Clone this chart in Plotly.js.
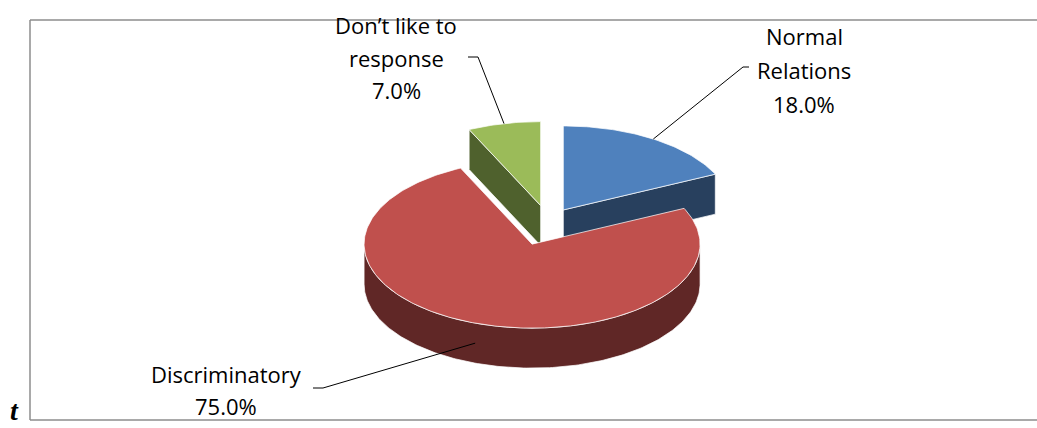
<!DOCTYPE html>
<html>
<head>
<meta charset="utf-8">
<script src="https://cdn.plot.ly/plotly-3.0.1.min.js"></script>
<style>
html,body{margin:0;padding:0;background:#fff;}
#chart{width:1037px;height:428px;}
</style>
</head>
<body>
<div id="chart"></div>
<script>
// ---- data ----
const categories = ["Normal\nRelations", "Discriminatory", "Don\u2019t like to\nresponse"];
const values = [18.0, 75.0, 7.0];

// ---- style (positions / sizes / colours) ----
const style = {
  center: [548, 222], rx: 168, ry: 84, depth: 40,
  pull: [0.17, 0.28, 0.2],
  topColor: ['#4F81BD', '#C0504D', '#9BBB59'],
  sideColor: ['#28405E', '#602726', '#4F612D'],
  labelFirstLine: [[804, 36], [226, 374], [396, 25]],
  lineGap: [34, 32, 32.5],
  leaderStart: [[[749, 67], [743, 67]], [[313, 388], [323, 388]], [[468, 57], [478, 57]]],
  leaderDepth: [0, 0.5, 0],
  font: 'Open Sans, Liberation Sans, sans-serif', fontSize: 22
};

const total = values.reduce((a, b) => a + b, 0);
const rad = d => d * Math.PI / 180;

function pt(c, th, dy) {
  return [c[0] + style.rx * Math.sin(rad(th)), c[1] - style.ry * Math.cos(rad(th)) + (dy || 0)];
}
function arc(c, a, b, dy) {
  const pts = [];
  const n = Math.max(2, Math.ceil(Math.abs(b - a) / 1));
  for (let i = 0; i <= n; i++) pts.push(pt(c, a + (b - a) * i / n, dy));
  return pts;
}

// slice geometry from data
let acc = 0;
const slices = values.map((v, i) => {
  const a = acc / total * 360;
  acc += v;
  const b = acc / total * 360;
  const mid = (a + b) / 2;
  const p = style.pull[i];
  const c = [style.center[0] + p * style.rx * Math.sin(rad(mid)),
             style.center[1] - p * style.ry * Math.cos(rad(mid))];
  return {i, a, b, mid, c};
});

function poly(pts, color) {
  return {
    type: 'scatter', mode: 'lines', fill: 'toself', fillcolor: color,
    x: pts.map(p => p[0]), y: pts.map(p => p[1]),
    line: {color: 'rgba(255,255,255,0.9)', width: 0.8},
    hoverinfo: 'skip', showlegend: false
  };
}

const traces = [];
const order = slices.slice().sort((s, t) => Math.cos(rad(t.mid)) - Math.cos(rad(s.mid)));
const H = style.depth;
order.forEach(s => {
  const side = style.sideColor[s.i], top = style.topColor[s.i];
  // start cut face
  if (Math.sin(rad(s.a)) < -1e-6) {
    const r = pt(s.c, s.a);
    traces.push(poly([s.c, r, [r[0], r[1] + H], [s.c[0], s.c[1] + H], s.c], side));
  }
  // end cut face
  if (Math.sin(rad(s.b)) > 1e-6) {
    const r = pt(s.c, s.b);
    traces.push(poly([s.c, r, [r[0], r[1] + H], [s.c[0], s.c[1] + H], s.c], side));
  }
  // outer side (front half)
  const lo = Math.max(s.a, 90), hi = Math.min(s.b, 270);
  if (hi > lo) {
    const upper = arc(s.c, lo, hi, 0);
    const lower = arc(s.c, hi, lo, H);
    traces.push(poly(upper.concat(lower, [upper[0]]), side));
  }
  // top face
  traces.push(poly([s.c].concat(arc(s.c, s.a, s.b, 0), [s.c]), top));
});

// leader lines
slices.forEach(s => {
  const end = pt(s.c, s.mid, H * style.leaderDepth[s.i]);
  const pts = style.leaderStart[s.i].concat([end]);
  traces.push({
    type: 'scatter', mode: 'lines', x: pts.map(p => p[0]), y: pts.map(p => p[1]),
    line: {color: '#000', width: 1}, hoverinfo: 'skip', showlegend: false
  });
});

// labels
const annotations = [];
slices.forEach(s => {
  const lines = categories[s.i].split('\n').concat([(values[s.i] / total * 100).toFixed(1) + '%']);
  const [lx, ly] = style.labelFirstLine[s.i];
  lines.forEach((t, k) => {
    annotations.push({
      x: lx, y: ly + k * style.lineGap[s.i], xref: 'x', yref: 'y',
      text: t, showarrow: false, xanchor: 'center', yanchor: 'middle',
      font: {family: style.font, size: style.fontSize, color: '#000'}
    });
  });
});
annotations.push({
  x: 14, y: 410, xref: 'x', yref: 'y', text: '<b><i>t</i></b>', showarrow: false,
  xanchor: 'center', yanchor: 'middle',
  font: {family: 'Liberation Serif, serif', size: 28, color: '#000'}
});

const frameColor = '#8c8c8c';
const layout = {
  width: 1037, height: 428,
  margin: {l: 0, r: 0, t: 0, b: 0},
  paper_bgcolor: '#fff', plot_bgcolor: '#fff',
  xaxis: {range: [0, 1037], visible: false, fixedrange: true},
  yaxis: {range: [428, 0], visible: false, fixedrange: true},
  shapes: [
    {type: 'line', xref: 'x', yref: 'y', x0: 30, x1: 1040, y0: 20, y1: 20, line: {color: frameColor, width: 1.5}},
    {type: 'line', xref: 'x', yref: 'y', x0: 30, x1: 30, y0: 20, y1: 420, line: {color: frameColor, width: 1.5}},
    {type: 'line', xref: 'x', yref: 'y', x0: 30, x1: 1040, y0: 420, y1: 420, line: {color: frameColor, width: 1.5}}
  ],
  annotations: annotations,
  showlegend: false
};

Plotly.newPlot('chart', traces, layout, {displayModeBar: false, staticPlot: true});
</script>
</body>
</html>
